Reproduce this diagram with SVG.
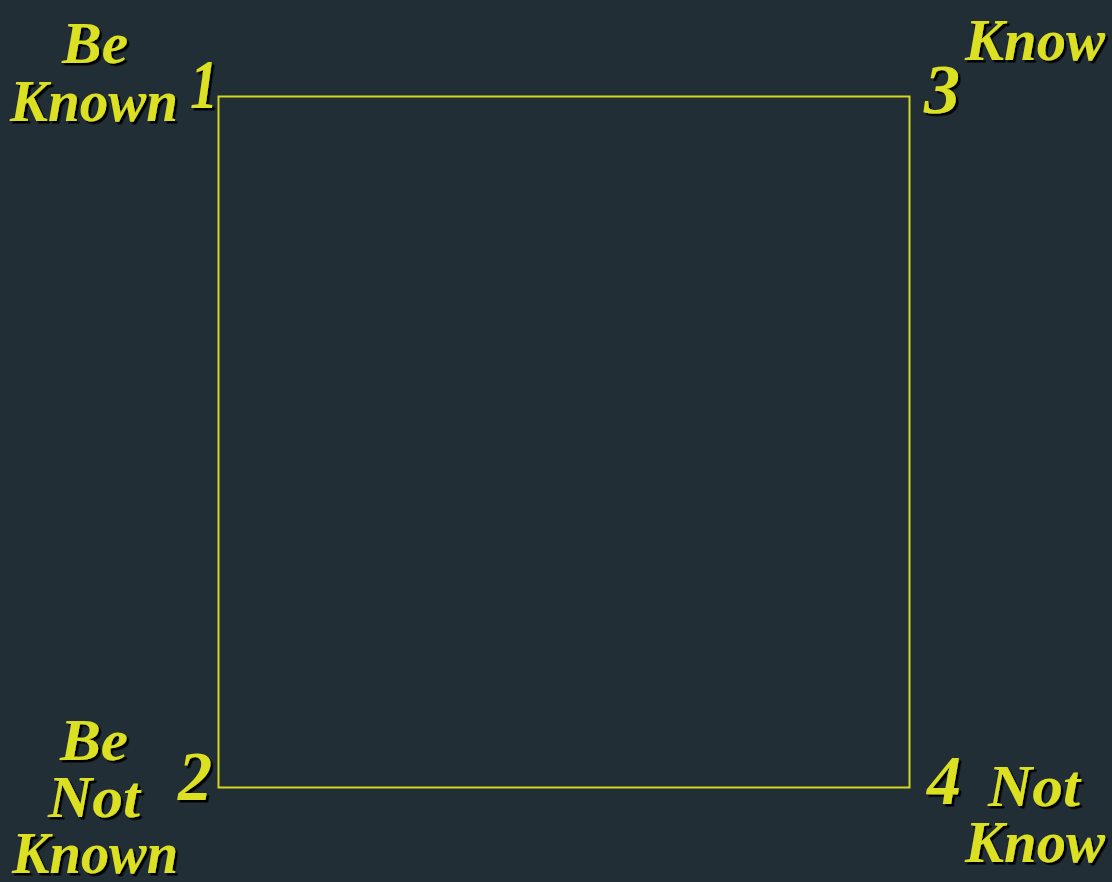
<svg xmlns="http://www.w3.org/2000/svg" width="1112" height="882" viewBox="0 0 1112 882">
<style>
.bg{fill:#222e36}
.frame{fill:none;stroke:#d4d622;stroke-width:2}
.t{font-family:"Liberation Serif",serif;font-style:italic;font-weight:bold;font-size:60px;fill:#dbe024;filter:url(#sh)}
.n{font-size:70px}
</style>
<defs>
<filter id="sh" x="-10%" y="-10%" width="130%" height="130%">
<feDropShadow dx="2.5" dy="2.5" stdDeviation="0" flood-color="#000" flood-opacity="1"/>
</filter>
</defs>
<rect class="bg" width="1112" height="882"/>
<g id="connectors">
<rect class="frame" x="218.5" y="96.5" width="691" height="691"/>
</g>
<g id="node1">
<text class="t" x="62" y="63" textLength="66" lengthAdjust="spacingAndGlyphs">Be</text>
<text class="t" x="10" y="121" textLength="168" lengthAdjust="spacingAndGlyphs">Known</text>
<text class="t n" x="190" y="108" textLength="28" lengthAdjust="spacingAndGlyphs">1</text>
</g>
<g id="node2">
<text class="t" x="60" y="760" textLength="68" lengthAdjust="spacingAndGlyphs">Be</text>
<text class="t" x="48" y="817" textLength="92" lengthAdjust="spacingAndGlyphs">Not</text>
<text class="t" x="12" y="873" textLength="166" lengthAdjust="spacingAndGlyphs">Known</text>
<text class="t n" x="178" y="800" textLength="34" lengthAdjust="spacingAndGlyphs">2</text>
</g>
<g id="node3">
<text class="t" x="965" y="60" textLength="140" lengthAdjust="spacingAndGlyphs">Know</text>
<text class="t n" x="924" y="113" textLength="36" lengthAdjust="spacingAndGlyphs">3</text>
</g>
<g id="node4">
<text class="t n" x="927" y="804" textLength="34" lengthAdjust="spacingAndGlyphs">4</text>
<text class="t" x="988" y="806" textLength="92" lengthAdjust="spacingAndGlyphs">Not</text>
<text class="t" x="965" y="862" textLength="140" lengthAdjust="spacingAndGlyphs">Know</text>
</g>
</svg>
